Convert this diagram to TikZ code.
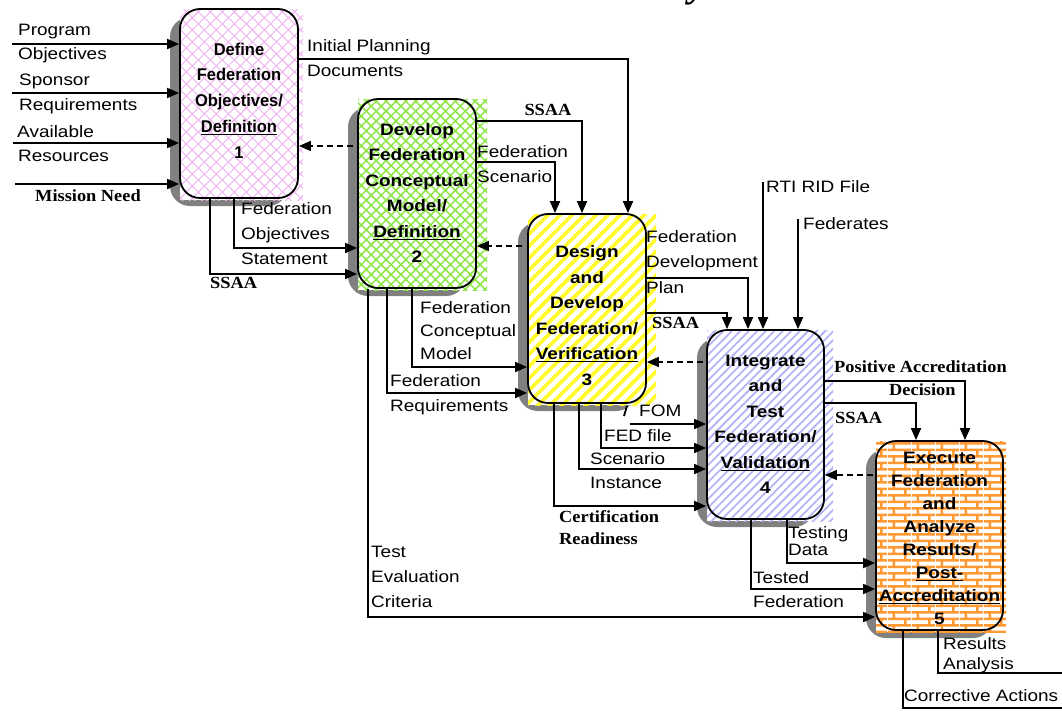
\documentclass[tikz,border=0pt]{standalone}
\usepackage{fontspec}
\usetikzlibrary{arrows.meta,patterns,patterns.meta}
\newfontfamily\labf[FakeStretch=1.15]{Liberation Sans}
\newfontfamily\boxonef[FakeStretch=0.97]{Liberation Sans}
\newfontfamily\serf[FakeStretch=1.08]{Liberation Serif}
\newfontfamily\titf{Liberation Serif}
\definecolor{shadowgray}{RGB}{128,128,128}
\definecolor{pinkhatch}{RGB}{240,176,240}
\definecolor{greenhatch}{RGB}{140,230,70}
\definecolor{yellowline}{RGB}{255,250,40}
\definecolor{blueline}{RGB}{180,180,245}
\definecolor{orangebrick}{RGB}{255,153,51}
\pgfdeclarepatternformonly{bricksB}{\pgfpointorigin}{\pgfqpoint{24pt}{13.4pt}}{\pgfqpoint{24pt}{13.4pt}}{
  \pgfsetlinewidth{2.6pt}
  \pgfpathmoveto{\pgfqpoint{0pt}{3.35pt}}\pgfpathlineto{\pgfqpoint{24pt}{3.35pt}}
  \pgfpathmoveto{\pgfqpoint{0pt}{10.05pt}}\pgfpathlineto{\pgfqpoint{24pt}{10.05pt}}
  \pgfpathmoveto{\pgfqpoint{6pt}{3.35pt}}\pgfpathlineto{\pgfqpoint{6pt}{10.05pt}}
  \pgfpathmoveto{\pgfqpoint{18pt}{10.05pt}}\pgfpathlineto{\pgfqpoint{18pt}{13.4pt}}
  \pgfpathmoveto{\pgfqpoint{18pt}{0pt}}\pgfpathlineto{\pgfqpoint{18pt}{3.35pt}}
  \pgfusepath{stroke}}
\begin{document}
\begin{tikzpicture}[x=1pt,y=-1pt,
  lab/.style={font=\labf\fontsize{16.5}{20}\selectfont, inner sep=0pt, anchor=base west},
  serl/.style={font=\serf\bfseries\fontsize{17}{20}\selectfont, inner sep=0pt, anchor=base west},
  boxshape/.style={draw, line width=1.8pt, rounded corners=20pt, minimum height=189pt, inner sep=0pt},
  btxt/.style={font=\labf\bfseries\fontsize{16.5}{25.5}\selectfont, align=center, inner sep=0pt},
  shadowbox/.style={fill=shadowgray, rounded corners=20pt},
  conn/.style={line width=1.8pt, -{Triangle[length=12pt,width=10pt]}},
  plainline/.style={line width=1.8pt},
  dasharr/.style={line width=1.5pt, dash pattern=on 6pt off 4pt, -{Triangle[length=12pt,width=10pt]}}]
\useasboundingbox (0,0) rectangle (1062,715);
\fill[white] (0,0) rectangle (1062,715);

% title fragment (cut off at the top edge, as in the reference)
\node[font=\titf\bfseries\itshape\fontsize{40}{40}\selectfont, anchor=base west, inner sep=0pt] (ttl) at (689,-4) {y};

% shadows and patterns
\fill[shadowbox] (170,17) rectangle (288,206);
\fill[white] (180,9) rectangle (303,200);
\fill[pattern={Hatch[angle=45,distance=8.5pt,line width=0.9pt]}, pattern color=pinkhatch] (180,9) rectangle (303,200);

\fill[shadowbox] (348,107) rectangle (466,296);
\fill[white] (358,99) rectangle (487,290);
\fill[pattern={Hatch[angle=45,distance=7pt,line width=1.5pt]}, pattern color=greenhatch] (358,99) rectangle (487,290);

\fill[shadowbox] (518,222) rectangle (636,411);
\fill[white] (528,214) rectangle (656,405);
\fill[pattern={Lines[angle=45,distance=8.5pt,line width=3.6pt]}, pattern color=yellowline] (528,214) rectangle (656,405);

\fill[shadowbox] (697,338) rectangle (814,527);
\fill[white] (707,330) rectangle (833,521);
\fill[pattern={Lines[angle=45,distance=6pt,line width=1.8pt]}, pattern color=blueline] (707,330) rectangle (833,521);

\fill[shadowbox] (866,449) rectangle (993,638);
\fill[white] (876,441) rectangle (1006,632);
\fill[pattern=bricksB, pattern color=orangebrick] (876,441) rectangle (1006,632);

% boxes
\node[boxshape, minimum width=118pt] (b1) at (239,103.5) {};
\node[boxshape, minimum width=118pt] (b2) at (417,193.5) {};
\node[boxshape, minimum width=118pt] (b3) at (587,308.5) {};
\node[boxshape, minimum width=117pt] (b4) at (765.5,424.5) {};
\node[boxshape, minimum width=127pt] (b5) at (939.5,535.5) {};

% box texts
\node[btxt, font=\boxonef\bfseries\fontsize{17}{25.75}\selectfont] (t1) at (239,100.5) {Define\\Federation\\Objectives/\\\underline{Definition}\\1};
\node[btxt] (t2) at (417,193) {Develop\\Federation\\Conceptual\\Model/\\\underline{Definition}\\2};
\node[btxt] (t3) at (587,315.5) {Design\\and\\Develop\\Federation/\\\underline{Verification}\\3};
\node[btxt] (t4) at (765.5,424.5) {Integrate\\and\\Test\\Federation/\\\underline{Validation}\\4};
\node[btxt, font=\labf\bfseries\fontsize{16.5}{23}\selectfont] (t5) at (939.5,538.5) {Execute\\Federation\\and\\Analyze\\Results/\\\underline{Post-}\\\underline{Accreditation}\\5};

% coordinates
\coordinate (in1) at (12,44);
\coordinate (in2) at (12,93);
\coordinate (in3) at (13,143);
\coordinate (in4) at (15,184);
\coordinate (ipd) at (628,59);
\coordinate (fos) at (234,248);
\coordinate (s12) at (210,274);
\coordinate (s23) at (582,121);
\coordinate (fsc) at (555,162);
\coordinate (fcm) at (412,367);
\coordinate (frq) at (387,393);
\coordinate (tec) at (368,617);
\coordinate (fdp) at (748,278);
\coordinate (s34) at (727,313);
\coordinate (rti) at (763,182);
\coordinate (fedr) at (798,219);
\coordinate (fomA) at (627,406);
\coordinate (fomB) at (624,416);
\coordinate (fom) at (630,424);
\coordinate (fed) at (601,448);
\coordinate (sci) at (579,469);
\coordinate (cr) at (554,506);
\coordinate (pad) at (965,381);
\coordinate (s45) at (916,403);
\coordinate (td) at (787,563);
\coordinate (tf) at (751,589);
\coordinate (ra) at (938,673);
\coordinate (raE) at (1062,673);
\coordinate (ca) at (903,708);
\coordinate (caE) at (1062,708);
\coordinate (d21) at (353,146);
\coordinate (d32) at (522,246);
\coordinate (d43) at (703,362);
\coordinate (d54) at (873,475);

% connectors
\draw[conn] (in1) -- (in1 -| b1.west);
\draw[conn] (in2) -- (in2 -| b1.west);
\draw[conn] (in3) -- (in3 -| b1.west);
\draw[conn] (in4) -- (in4 -| b1.west);
\draw[conn] (b1.east |- ipd) -- (ipd) -- (ipd |- b3.north);
\draw[conn] (fos |- b1.south) -- (fos) -- (fos -| b2.west);
\draw[conn] (s12 |- b1.south) -- (s12) -- (s12 -| b2.west);
\draw[conn] (b2.east |- s23) -- (s23) -- (s23 |- b3.north);
\draw[conn] (b2.east |- fsc) -- (fsc) -- (fsc |- b3.north);
\draw[conn] (fcm |- b2.south) -- (fcm) -- (fcm -| b3.west);
\draw[conn] (frq |- b2.south) -- (frq) -- (frq -| b3.west);
\draw[conn] (tec |- b2.south) -- (tec) -- (tec -| b5.west);
\draw[conn] (b3.east |- fdp) -- (fdp) -- (fdp |- b4.north);
\draw[conn] (b3.east |- s34) -- (s34) -- (s34 |- b4.north);
\draw[conn] (rti) -- (rti |- b4.north);
\draw[conn] (fedr) -- (fedr |- b4.north);
\draw[plainline] (fomA) -- (fomB);
\draw[conn] (fom) -- (fom -| b4.west);
\draw[conn] (fed |- b3.south) -- (fed) -- (fed -| b4.west);
\draw[conn] (sci |- b3.south) -- (sci) -- (sci -| b4.west);
\draw[conn] (cr |- b3.south) -- (cr) -- (cr -| b4.west);
\draw[conn] (b4.east |- pad) -- (pad) -- (pad |- b5.north);
\draw[conn] (b4.east |- s45) -- (s45) -- (s45 |- b5.north);
\draw[conn] (td |- b4.south) -- (td) -- (td -| b5.west);
\draw[conn] (tf |- b4.south) -- (tf) -- (tf -| b5.west);
\draw[plainline] (ra |- b5.south) -- (ra) -- (raE);
\draw[plainline] (ca |- b5.south) -- (ca) -- (caE);
\draw[dasharr] (d21) -- (d21 -| b1.east);
\draw[dasharr] (d32) -- (d32 -| b2.east);
\draw[dasharr] (d43) -- (d43 -| b3.east);
\draw[dasharr] (d54) -- (d54 -| b4.east);

% labels
\node[lab] (l1) at (18,35) {Program};
\node[lab] (l2) at (18,59) {Objectives};
\node[lab] (l3) at (19,85) {Sponsor};
\node[lab] (l4) at (19,110) {Requirements};
\node[lab] (l5) at (17,137) {Available};
\node[lab] (l6) at (18,161) {Resources};
\node[serl] (l7) at (35,201) {Mission Need};
\node[lab] (l8) at (307,51) {Initial Planning};
\node[lab] (l9) at (307,76) {Documents};
\node[lab] (l10) at (241,214) {Federation};
\node[lab] (l11) at (241,239) {Objectives};
\node[lab] (l12) at (241,264) {Statement};
\node[serl] (l13) at (210,288) {SSAA};
\node[serl, anchor=base] (l14) at (548,115) {SSAA};
\node[lab] (l15) at (477,157) {Federation};
\node[lab] (l16) at (477,182) {Scenario};
\node[lab] (l17) at (420,313) {Federation};
\node[lab] (l18) at (420,336) {Conceptual};
\node[lab] (l19) at (420,359) {Model};
\node[lab] (l20) at (390,386) {Federation};
\node[lab] (l21) at (390,411) {Requirements};
\node[lab] (l22) at (371,557) {Test};
\node[lab] (l23) at (371,582) {Evaluation};
\node[lab] (l24) at (371,607) {Criteria};
\node[lab] (l25) at (646,242) {Federation};
\node[lab] (l26) at (646,267) {Development};
\node[lab] (l27) at (646,293) {Plan};
\node[serl] (l28) at (652,328) {SSAA};
\node[lab] (l29) at (766,192) {RTI RID File};
\node[lab] (l30) at (803,229) {Federates};
\node[lab] (l31) at (639,416) {FOM};
\node[lab] (l32) at (604,441) {FED file};
\node[lab] (l33) at (590,464) {Scenario};
\node[lab] (l34) at (590,488) {Instance};
\node[serl] (l35) at (559,522) {Certification};
\node[serl] (l36) at (559,544) {Readiness};
\node[serl] (l37) at (834,372) {Positive Accreditation};
\node[serl] (l38) at (889,395) {Decision};
\node[serl] (l39) at (835,423) {SSAA};
\node[lab] (l40) at (788,538) {Testing};
\node[lab] (l41) at (788,555) {Data};
\node[lab] (l42) at (753,583) {Tested};
\node[lab] (l43) at (753,607) {Federation};
\node[lab] (l44) at (943,649) {Results};
\node[lab] (l45) at (943,669) {Analysis};
\node[lab] (l46) at (904,701) {Corrective Actions};
\end{tikzpicture}
\end{document}
